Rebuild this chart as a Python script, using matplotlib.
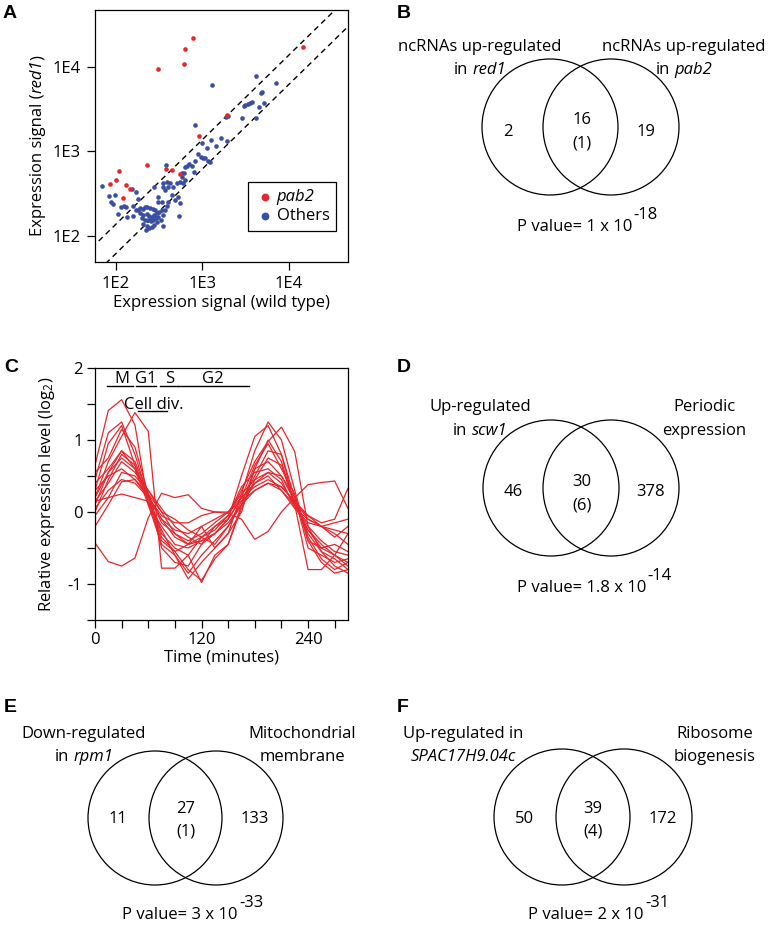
import numpy as np
import matplotlib.pyplot as plt
import matplotlib
from matplotlib.patches import Circle
from matplotlib.offsetbox import TextArea, HPacker, AnnotationBbox

matplotlib.rcParams['font.family'] = 'Open Sans'
matplotlib.rcParams['font.size'] = 12
matplotlib.rcParams['mathtext.fontset'] = 'custom'
matplotlib.rcParams['mathtext.rm'] = 'Open Sans'
matplotlib.rcParams['mathtext.it'] = 'Open Sans:italic'
matplotlib.rcParams['axes.linewidth'] = 0.9
matplotlib.rcParams['axes.unicode_minus'] = False

RED = '#e5262c'
BLUE = '#3a4fa2'

# ---- panel A: expression signal, wild type vs red1 ----
pab2_wt = [769, 628, 606, 303, 14700, 1950, 904, 226, 378, 448, 545, 107, 100, 86, 131, 145, 119]
pab2_red1 = [22200, 16300, 10900, 9380, 17300, 2700, 1520, 698, 627, 599, 547, 593, 456, 416, 398, 363, 282]

others_wt = [1288, 4150, 7140, 811, 4960, 4790, 5140, 4500, 3740, 3540, 3330, 3130, 2990, 2840, 4190,
             1990, 1870, 1650, 1950, 1250, 1420, 1130, 995, 887, 953, 1020, 1160, 826, 805, 756,
             698, 622, 574, 617, 68, 83, 97, 88, 92, 113, 122, 131, 104, 135, 155, 178, 152, 170,
             178, 189, 203, 216, 230, 247, 265, 282, 189, 207, 226, 243, 258, 275, 295, 317, 337,
             198, 216, 237, 252, 270, 290, 308, 207, 226, 243, 258, 275, 295, 222, 328, 347, 368,
             385, 403, 337, 308, 368, 403, 421, 460, 503, 550, 526, 440, 481, 550, 347, 535, 378,
             308, 352, 600, 628, 574, 656, 1070, 1220, 275, 352, 385, 158, 170]
others_red1 = [6070, 7760, 6530, 2040, 5060, 4880, 3750, 3360, 3890, 3780, 3650, 3550, 3450, 2470, 2470,
               2630, 2540, 1460, 1340, 1370, 1160, 1090, 1270, 933, 869, 845, 779, 765, 577, 680,
               705, 662, 562, 562, 391, 297, 306, 255, 239, 222, 226, 218, 182, 169, 226, 272, 357, 335,
               203, 212, 207, 218, 222, 212, 207, 203, 185, 177, 182, 172, 169, 177, 185, 192, 203,
               162, 155, 152, 148, 155, 162, 169, 139, 131, 124, 129, 135, 144, 118, 155, 177, 200,
               226, 255, 255, 292, 350, 384, 428, 384, 428, 440, 292, 306, 267, 244, 131, 171, 692,
               255, 384, 420, 460, 504, 674, 830, 759, 377, 428, 440, 172, 203]

upper_fold = 1.38
lower_fold = 0.62

# ---- panel C: periodic genes over the cell cycle ----
time_min = np.arange(0, 286, 15)
profiles = [
    [0.65, 1.41, 1.56, 1.21, 0.10, -0.20, -0.45, -0.50, -0.40, -0.30, -0.10, 0.50, 1.05, 1.20, 0.80, 0.10, -0.25, -0.45, -0.60, -0.70],
    [0.20, 0.70, 1.05, 1.38, 1.12, -0.78, -0.78, -0.60, -0.35, -0.20, -0.05, 0.30, 0.70, 0.98, 1.18, 0.84, -0.20, -0.55, -0.75, -0.85],
    [0.45, 1.10, 1.25, 0.80, 0.20, -0.35, -0.55, -0.80, -0.95, -0.65, -0.45, 0.10, 0.60, 1.00, 0.70, 0.10, -0.80, -0.80, -0.60, -0.75],
    [0.30, 0.95, 1.20, 0.65, 0.15, -0.25, -0.60, -0.93, -0.70, -0.50, -0.30, 0.25, 0.85, 1.25, 1.00, 0.30, -0.35, -0.65, -0.80, -0.70],
    [0.10, 0.55, 0.85, 0.70, 0.25, -0.30, -0.50, -0.60, -0.98, -0.60, -0.45, 0.05, 0.45, 0.75, 0.65, 0.10, -0.25, -0.50, -0.60, -0.30],
    [0.00, 0.45, 0.80, 0.65, 0.20, -0.10, -0.35, -0.45, -0.35, -0.25, -0.05, 0.35, 0.55, 0.60, 0.45, 0.05, -0.15, -0.20, -0.15, -0.10],
    [0.20, 0.55, 0.75, 0.60, 0.25, -0.15, -0.30, -0.40, -0.30, -0.15, 0.00, 0.25, 0.45, 0.55, 0.40, 0.10, -0.20, -0.40, -0.55, -0.60],
    [0.15, 0.40, 0.70, 0.55, 0.30, 0.05, -0.20, -0.35, -0.45, -0.30, -0.10, 0.20, 0.40, 0.50, 0.30, 0.05, -0.10, -0.20, -0.30, -0.45],
    [0.30, 0.50, 0.60, 0.45, 0.20, -0.05, -0.15, -0.15, -0.05, 0.00, 0.00, 0.15, 0.30, 0.40, 0.30, 0.10, -0.05, -0.20, -0.25, -0.30],
    [0.05, 0.30, 0.45, 0.40, 0.20, -0.10, -0.25, -0.30, -0.20, -0.10, 0.00, 0.20, 0.35, 0.45, 0.35, 0.15, -0.05, -0.15, -0.10, 0.33],
    [-0.20, 0.10, 0.42, 0.45, 0.25, 0.00, -0.30, -0.45, -0.40, -0.30, -0.15, 0.10, 0.30, 0.40, 0.35, 0.15, -0.30, -0.55, -0.65, -0.80],
    [0.15, 0.20, 0.25, 0.20, 0.15, -0.40, -0.55, -0.45, -0.20, -0.50, -0.30, 0.00, 0.60, 0.70, 0.50, 0.20, -0.40, -0.70, -0.85, -0.80],
    [0.40, 0.60, 0.85, 0.60, 0.10, -0.45, -0.60, -0.85, -0.60, -0.40, -0.20, 0.15, 0.50, 0.85, 0.80, 0.20, -0.50, -0.60, -0.70, -0.65],
    [0.55, 0.75, 1.15, 0.90, 0.25, -0.50, -0.70, -0.75, -0.45, -0.20, -0.10, 0.20, 0.65, 0.95, 0.60, 0.25, -0.40, -0.50, -0.45, -0.55],
    [-0.05, 0.20, 0.55, 0.50, 0.30, 0.00, -0.10, -0.25, -0.35, -0.45, -0.20, 0.10, 0.40, 0.55, 0.50, 0.15, -0.10, -0.20, -0.35, -0.20],
    [-0.43, -0.69, -0.75, -0.64, -0.08, 0.26, 0.20, 0.24, 0.05, 0.00, -0.02, -0.10, -0.38, -0.27, 0.00, 0.20, 0.38, 0.41, 0.43, 0.05],
]
phase_names = ['M', 'G1', 'S', 'G2']
phase_start = [13, 46, 73, 94]
phase_end = [43, 69, 94, 174]
phase_text_x = [30, 57, 84, 133]
celldiv_start, celldiv_end = 48, 81

# ---- Venn panels B, D, E, F (text between * is italic) ----
venn_left_title = [['ncRNAs up-regulated', 'in *red1*'],
                   ['Up-regulated', 'in *scw1*'],
                   ['Down-regulated', 'in *rpm1*'],
                   ['Up-regulated in', '*SPAC17H9.04c*']]
venn_right_title = [['ncRNAs up-regulated', 'in *pab2*'],
                    ['Periodic', 'expression'],
                    ['Mitochondrial', 'membrane'],
                    ['Ribosome', 'biogenesis']]
venn_left_only = [2, 46, 11, 50]
venn_both = [16, 30, 27, 39]
venn_both_sub = [1, 6, 1, 4]
venn_right_only = [19, 378, 133, 172]
p_mantissa = ['1', '1.8', '3', '2']
p_exponent = [-18, -14, -33, -31]


def mixed_text(ax, x, y, s):
    parts = s.split('*')
    boxes = []
    for k, p in enumerate(parts):
        p = p.strip()
        if not p:
            continue
        style = 'italic' if k % 2 else 'normal'
        boxes.append(TextArea(p, textprops=dict(fontstyle=style, fontsize=12)))
    pack = HPacker(children=boxes, align='baseline', pad=0, sep=3.3)
    ab = AnnotationBbox(pack, (x, y), xycoords='data', frameon=False,
                        box_alignment=(0.5, 0.5), pad=0, annotation_clip=False)
    ax.add_artist(ab)


fig = plt.figure(figsize=(7.7, 9.25), dpi=100)
W, H = 770.0, 925.0

# panel A
axA = fig.add_axes([95 / W, 1 - 262 / H, 253 / W, 252 / H])
axA.set_xscale('log')
axA.set_yscale('log')
axA.set_xlim(57, 48500)
axA.set_ylim(49, 47300)
ref = np.array([30.0, 80000.0])
axA.plot(ref, ref * upper_fold, color='k', lw=1, ls=(0, (4, 3)), zorder=2)
axA.plot(ref, ref * lower_fold, color='k', lw=1, ls=(0, (4, 3)), zorder=2)
h_oth = axA.scatter(others_wt, others_red1, s=11, color=BLUE, lw=0, zorder=3)
h_pab = axA.scatter(pab2_wt, pab2_red1, s=11, color=RED, lw=0, zorder=4)
axA.set_xticks([100, 1000, 10000])
axA.set_xticklabels(['1E2', '1E3', '1E4'])
axA.set_yticks([100, 1000, 10000])
axA.set_yticklabels(['1E2', '1E3', '1E4'])
axA.minorticks_off()
axA.tick_params(direction='out', length=6, width=0.9, pad=4)
axA.set_xlabel('Expression signal (wild type)', labelpad=2)
leg = axA.legend([h_pab, h_oth], ['pab2', 'Others'], loc='lower right',
                 bbox_to_anchor=(0.953, 0.123), frameon=True, fancybox=False,
                 edgecolor='k', framealpha=1, markerscale=1.7, handletextpad=0.1,
                 borderpad=0.4, labelspacing=0.2, handlelength=1.2, borderaxespad=0)
leg.get_frame().set_linewidth(0.9)
leg.get_texts()[0].set_fontstyle('italic')

# panel C
axC = fig.add_axes([95 / W, 1 - 620 / H, 253 / W, 252 / H])
for prof in profiles:
    axC.plot(time_min, prof, color=RED, lw=0.9)
axC.set_xlim(0, 285)
axC.set_ylim(-1.5, 2)
axC.set_xticks([0, 120, 240])
axC.set_xticks(np.arange(0, 286, 30), minor=True)
axC.set_yticks([-1, 0, 1, 2])
axC.set_yticks([-1.5, -0.5, 0.5, 1.5], minor=True)
axC.tick_params(which='both', direction='out', length=6, width=0.9, pad=3)
axC.set_xlabel('Time (minutes)', labelpad=1)
axC.set_ylabel('Relative expression level (log$_2$)', labelpad=8)
for name, a, b, tx in zip(phase_names, phase_start, phase_end, phase_text_x):
    axC.plot([a, b], [1.755, 1.755], color='k', lw=1)
    axC.text(tx, 1.785, name, ha='center', va='baseline')
axC.plot([celldiv_start, celldiv_end], [1.40, 1.40], color='k', lw=1)
axC.text(66, 1.43, 'Cell div.', ha='center', va='baseline')

# overlay in pixel units for Venn diagrams, panel letters and the mixed-style y label
ov = fig.add_axes([0, 0, 1, 1])
ov.set_xlim(0, W)
ov.set_ylim(H, 0)
ov.axis('off')

# y label of panel A with italic strain name
y1 = ov.text(38, 236, 'Expression signal (', rotation=90, ha='center', va='bottom')
y2 = ov.annotate('red1', xy=(0.5, 1), xycoords=y1, rotation=90, ha='center', va='bottom',
                 fontstyle='italic')
ov.annotate(')', xy=(0.5, 1), xycoords=y2, rotation=90, ha='center', va='bottom')

letters = [('A', 3, 13), ('B', 397, 13), ('C', 4, 368), ('D', 397, 368), ('E', 4, 707), ('F', 397, 707)]
for lab, lx, ly in letters:
    ov.text(lx, ly, lab, fontsize=14, fontweight='bold', family='Liberation Sans',
            ha='left', va='center')

venn_layout = [
    dict(cl=(550, 127), cr=(611, 127), r=68, ly=(47, 70), lx=480, rx=684,
         nl=(508, 132), nm=(582, 120), nr=(646, 132), px=517, py=227),
    dict(cl=(551, 488), cr=(611, 488), r=68, ly=(407, 431), lx=480, rx=704,
         nl=(513, 492), nm=(582, 482), nr=(651, 492), px=517, py=588),
    dict(cl=(155, 818), cr=(216, 818), r=67, ly=(734, 757), lx=84, rx=302,
         nl=(118, 819), nm=(186, 809), nr=(255, 819), px=122, py=915),
    dict(cl=(562, 817), cr=(624, 817), r=68, ly=(734, 757), lx=463, rx=715,
         nl=(525, 819), nm=(593, 809), nr=(663, 819), px=528, py=915),
]

for i, lay in enumerate(venn_layout):
    for c in (lay['cl'], lay['cr']):
        ov.add_patch(Circle(c, lay['r'], fill=False, ec='k', lw=0.9))
    for line, y in zip(venn_left_title[i], lay['ly']):
        mixed_text(ov, lay['lx'], y, line)
    for line, y in zip(venn_right_title[i], lay['ly']):
        mixed_text(ov, lay['rx'], y, line)
    ov.text(*lay['nl'], str(venn_left_only[i]), ha='center', va='center')
    ov.text(*lay['nm'], str(venn_both[i]), ha='center', va='center')
    ov.text(lay['nm'][0], lay['nm'][1] + 23, '(%d)' % venn_both_sub[i], ha='center', va='center')
    ov.text(*lay['nr'], str(venn_right_only[i]), ha='center', va='center')
    t = ov.text(lay['px'], lay['py'], 'P value= %s x 10' % p_mantissa[i], ha='left', va='center')
    ov.annotate('%d' % p_exponent[i], xy=(1, 0.75), xycoords=t, xytext=(1, 0),
                textcoords='offset points', ha='left', va='bottom')

fig.savefig('out.png', dpi=100, facecolor='white')
